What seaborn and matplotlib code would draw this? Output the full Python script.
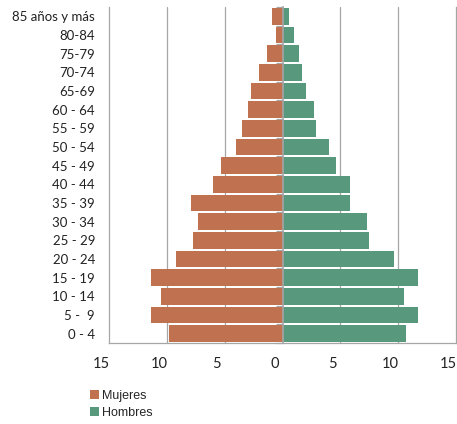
import matplotlib
matplotlib.use("Agg")
import matplotlib.pyplot as plt
import matplotlib.transforms as mtransforms
import numpy as np
import pandas as pd
import seaborn as sns

# age groups, top to bottom as in the pyramid
edades = [
    "85 años y más", "80-84", "75-79", "70-74", "65-69", "60 - 64", "55 - 59",
    "50 - 54", "45 - 49", "40 - 44", "35 - 39", "30 - 34", "25 - 29",
    "20 - 24", "15 - 19", "10 - 14", "5 -  9", "0 - 4",
]
mujeres = [0.9, 0.6, 1.3, 2.0, 2.7, 3.0, 3.5, 4.0, 5.3, 6.0, 7.9, 7.3, 7.7,
           9.2, 11.4, 10.5, 11.4, 9.8]
hombres = [0.6, 1.0, 1.4, 1.7, 2.0, 2.7, 2.9, 4.0, 4.6, 5.8, 5.8, 7.3, 7.5,
           9.6, 11.7, 10.5, 11.7, 10.7]
xticks = [-15, -10, -5, 0, 5, 10, 15]
xlabels = ["15", "10", "5", "0", "5", "10", "15"]

COLOR_M = "#c0714f"
COLOR_H = "#58997d"
GRID = "#a6a6a6"

df = pd.concat([
    pd.DataFrame({"edad": edades, "valor": -np.array(mujeres), "sexo": "Mujeres"}),
    pd.DataFrame({"edad": edades, "valor": np.array(hombres), "sexo": "Hombres"}),
])

sns.set_style("white")
plt.rcParams["font.family"] = ["Lato", "DejaVu Sans"]

fig = plt.figure(figsize=(4.57, 4.24), dpi=100)
ax = fig.add_axes([0.2385, 0.191, 0.7595, 0.7925])

sns.barplot(
    data=df, y="edad", x="valor", hue="sexo", order=edades,
    palette={"Mujeres": COLOR_M, "Hombres": COLOR_H}, saturation=1,
    dodge=False, orient="h", width=0.88, linewidth=0, ax=ax, zorder=2,
)
handles, labels = ax.get_legend_handles_labels()
ax.get_legend().remove()

ax.set_xlim(-15, 15)
ax.set_xticks(xticks)
ax.set_xticklabels(xlabels, fontsize=10.5, color="#222")
ax.set_xlabel("")
ax.set_ylabel("")
ax.tick_params(axis="y", length=0, pad=10, labelsize=9.5, labelcolor="#222")
ax.tick_params(axis="x", length=4, width=0.9, color=GRID, direction="out", pad=6)
# Excel-style shifted x labels
offset = mtransforms.ScaledTranslation(-0.08, 0, fig.dpi_scale_trans)
for lbl in ax.get_xticklabels():
    lbl.set_transform(lbl.get_transform() + offset)

for x in [-10, -5, 5, 10]:
    ax.axvline(x, color=GRID, lw=0.9, zorder=1)
ax.spines["top"].set_visible(False)
for side in ["left", "right", "bottom"]:
    ax.spines[side].set_color(GRID)
    ax.spines[side].set_linewidth(0.9)

# central axis with category tick marks
ax2 = ax.twinx()
ax2.set_ylim(ax.get_ylim())
ax2.spines["right"].set_position(("data", 0))
ax2.spines["right"].set_color(GRID)
ax2.spines["right"].set_linewidth(1.2)
for side in ["left", "top", "bottom"]:
    ax2.spines[side].set_visible(False)
ax2.set_yticks(np.arange(len(edades) + 1) - 0.5)
ax2.set_yticklabels([])
ax2.tick_params(axis="y", direction="in", length=5, width=0.9, color=GRID)

leg = fig.legend(
    handles, labels, loc="upper left",
    bbox_to_anchor=(85 / 457, 1 - 385 / 424), bbox_transform=fig.transFigure,
    frameon=False, fontsize=9, handlelength=0.7, handleheight=0.7,
    handletextpad=0.25, labelspacing=0.4, borderaxespad=0,
)
for t in leg.get_texts():
    t.set_family(["Liberation Sans Narrow", "Liberation Sans", "DejaVu Sans"])

fig.savefig("out.png", dpi=100)
